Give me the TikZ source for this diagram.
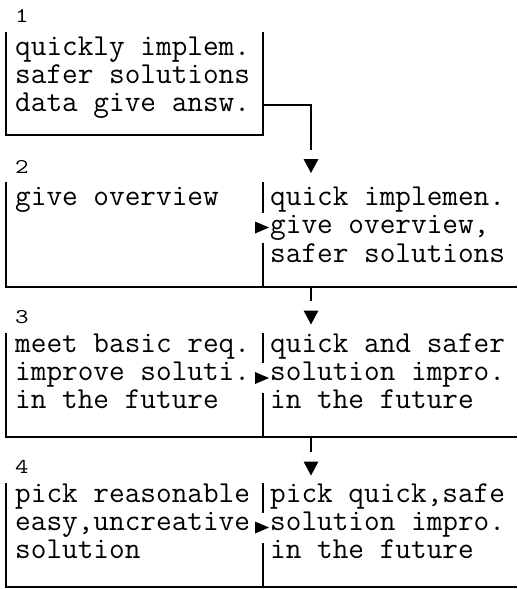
\documentclass[tikz,border=0pt]{standalone}
\usepackage{fontspec}
\newcommand\lblbox[1]{\scalebox{1.25}[1]{#1}}
\begin{document}
\begin{tikzpicture}[x=1pt,y=-1pt,
  txt/.style={anchor=base west, inner sep=0pt, font=\fontsize{30.4pt}{28pt}\selectfont\ttfamily},
  lbl/.style={anchor=base west, inner sep=0pt, font=\ttfamily\fontsize{21pt}{21pt}\selectfont},
  bar/.style={line width=2.2pt, line cap=butt},
  con/.style={line width=2pt}]
\useasboundingbox (0,0) rectangle (517,589);
% ---------- labels ----------
\node[lbl] (n1) at (15,22) {\lblbox{1}};
\node[lbl] (n2) at (15,173) {\lblbox{2}};
\node[lbl] (n3) at (15,323) {\lblbox{3}};
\node[lbl] (n4) at (15,473) {\lblbox{4}};
% ---------- box 1 ----------
\node[txt] (b1a) at (15,55) {quickly implem.};
\node[txt] (b1b) at (15,83) {safer solutions};
\node[txt] (b1c) at (15,111) {data give answ.};
\draw[bar] (6,32) -- (6,135) -- (263,135) -- (263,32);
% ---------- box 2 ----------
\node[txt] (b2l) at (15,205) {give overview};
\node[txt] (b2a) at (270,205) {quick implemen.};
\node[txt] (b2b) at (270,233.5) {give overview,};
\node[txt] (b2c) at (270,262) {safer solutions};
\draw[bar] (6,182) -- (6,287) -- (517,287);
\draw[bar] (263,182) -- (263,212.5) (263,242.5) -- (263,287);
% ---------- box 3 ----------
\node[txt] (b3a) at (15,352) {meet basic req.};
\node[txt] (b3b) at (15,380) {improve soluti.};
\node[txt] (b3c) at (15,408) {in the future};
\node[txt] (b3d) at (270,352) {quick and safer};
\node[txt] (b3e) at (270,380) {solution impro.};
\node[txt] (b3f) at (270,408) {in the future};
\draw[bar] (6,333) -- (6,437) -- (517,437);
\draw[bar] (263,333) -- (263,363) (263,393) -- (263,437);
% ---------- box 4 ----------
\node[txt] (b4a) at (15,502) {pick reasonable};
\node[txt] (b4b) at (15,530) {easy,uncreative};
\node[txt] (b4c) at (15,558) {solution};
\node[txt] (b4d) at (270,502) {pick quick,safe};
\node[txt] (b4e) at (270,530) {solution impro.};
\node[txt] (b4f) at (270,558) {in the future};
\draw[bar] (6,483) -- (6,587) -- (517,587);
\draw[bar] (263,483) -- (263,512.5) (263,542.5) -- (263,587);
% ---------- connectors ----------
\coordinate (o1) at (263,105);
\coordinate (e1) at (311,150);
\coordinate (o2) at (311,287);
\coordinate (e2) at (311,301);
\coordinate (o3) at (311,437);
\coordinate (e3) at (311,452);
\draw[con] (o1) -| (e1);
\draw[con] (o2) -- (e2);
\draw[con] (o3) -- (e3);
% down triangles
\coordinate (d2) at (311,166);
\coordinate (d3) at (311,317.5);
\coordinate (d4) at (311,468.5);
\foreach \c in {d2,d3,d4}
  \fill (\c) ++(-7.5,-7) -- ++(15,0) -- ++(-7.5,14) -- cycle;
% right triangles
\coordinate (r2) at (262,227.5);
\coordinate (r3) at (262,378);
\coordinate (r4) at (262,527.5);
\foreach \c in {r2,r3,r4}
  \fill (\c) ++(-7,-6) -- ++(0,12) -- ++(14,-6) -- cycle;
\end{tikzpicture}
\end{document}
